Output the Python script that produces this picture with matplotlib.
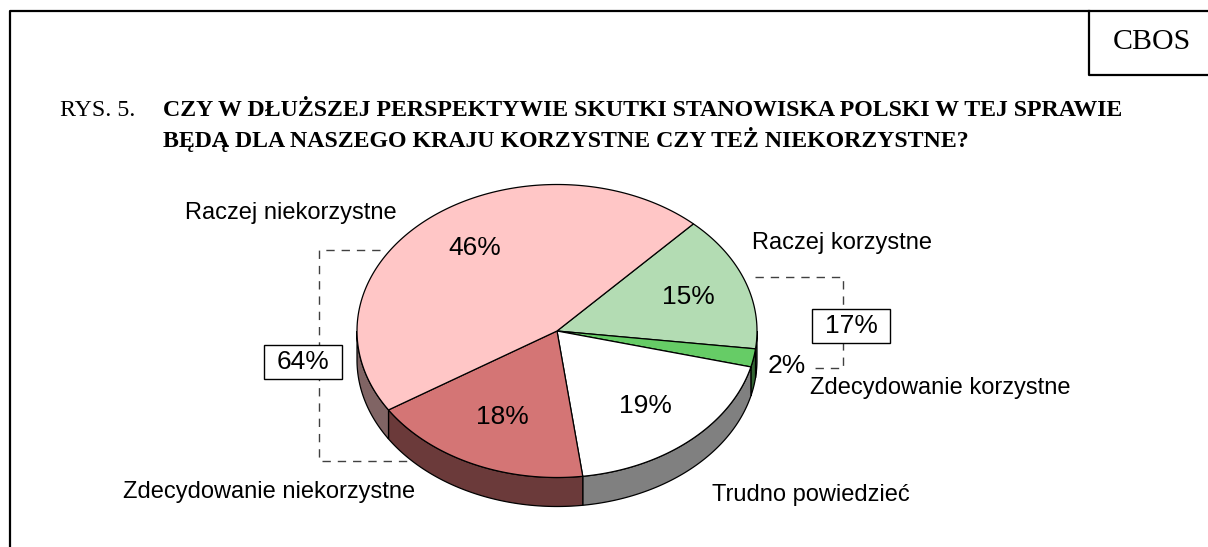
import numpy as np
import matplotlib.pyplot as plt
from matplotlib.patches import Polygon, Rectangle

# data, clockwise from the upper right
categories = ['Raczej korzystne', 'Zdecydowanie korzystne', 'Trudno powiedzieć',
              'Zdecydowanie niekorzystne', 'Raczej niekorzystne']
values = [15, 2, 19, 18, 46]
top_colors = ['#b3dcb3', '#66cc66', '#ffffff', '#d47575', '#ffc6c6']
side_colors = ['#5a7a5a', '#336633', '#808080', '#6b3a3a', '#806464']
group_labels = ['17%', '64%']

title1 = 'CZY W DŁUŻSZEJ PERSPEKTYWIE SKUTKI STANOWISKA POLSKI W TEJ SPRAWIE'
title2 = 'BĘDĄ DLA NASZEGO KRAJU KORZYSTNE CZY TEŻ NIEKORZYSTNE?'

# layout (pixels)
cx, cy = 557, 331
rx, ry = 200, 146.5
depth = 29
start = 47

fig = plt.figure(figsize=(12.08, 5.47), dpi=100)
ax = fig.add_axes([0, 0, 1, 1])
ax.set_xlim(0, 1208)
ax.set_ylim(547, 0)
ax.axis('off')

# frame + CBOS box
ax.plot([10, 10, 1208], [547, 11, 11], color='black', lw=1.6)
ax.plot([1089, 1089, 1208], [11, 75, 75], color='black', lw=1.6)
ax.text(1152, 42, 'CBOS', family='Liberation Serif', fontsize=21.5,
        ha='center', va='center')

ax.text(60, 110, 'RYS. 5.', family='Liberation Serif', fontsize=17.2, va='center')
ax.text(163, 110, title1, family='Liberation Serif', fontsize=17.2,
        fontweight='bold', va='center')
ax.text(163, 139, title2, family='Liberation Serif', fontsize=17.2,
        fontweight='bold', va='center')


def ell(t, dy=0):
    t = np.radians(t)
    return np.column_stack([cx + rx * np.cos(t), cy - ry * np.sin(t) + dy])


bounds = start - np.concatenate([[0], np.cumsum(values)]) * 3.6

# side walls (front half only)
for i in range(len(values)):
    a1, a2 = bounds[i + 1], bounds[i]
    lo, hi = max(a1, -180), min(a2, 0)
    if a1 < -180:
        lo2, hi2 = max(a1 + 360, -180), min(a2 + 360, 0)
        if hi2 > lo2:
            lo, hi = lo2, hi2
    if hi <= lo:
        continue
    t = np.linspace(lo, hi, 80)
    pts = np.vstack([ell(t), ell(t[::-1], depth)])
    ax.add_patch(Polygon(pts, closed=True, facecolor=side_colors[i],
                         edgecolor='black', lw=0.9))

# top face
for i in range(len(values)):
    t = np.linspace(bounds[i + 1], bounds[i], 150)
    pts = np.vstack([[cx, cy], ell(t)])
    ax.add_patch(Polygon(pts, closed=True, facecolor=top_colors[i],
                         edgecolor='black', lw=0.9))

# percentages
pct_pos = [(688, 297), (787, 366), (645, 406), (502, 417), (475, 248)]
for v, (x, y) in zip(values, pct_pos):
    ax.text(x, y, f'{v}%', family='Liberation Sans', fontsize=19,
            ha='center', va='center')

# category labels
lab_pos = [(752, 243), (810, 388), (712, 495), (123, 492), (185, 213)]
for c, (x, y) in zip(categories, lab_pos):
    ax.text(x, y, c, family='Liberation Sans', fontsize=17, ha='left', va='center')

# group brackets
dash = dict(color='#404040', lw=1, linestyle=(0, (6, 5)))
ax.plot([755, 843, 843, 813], [277, 277, 368, 368], **dash)
ax.plot([380, 319, 319, 410], [250, 250, 461, 461], **dash)
for lab, (x, y) in zip(group_labels, [(851, 326), (303, 362)]):
    ax.add_patch(Rectangle((x - 39, y - 17), 78, 34, facecolor='white',
                           edgecolor='black', lw=1, zorder=3))
    ax.text(x, y, lab, family='Liberation Sans', fontsize=19,
            ha='center', va='center', zorder=4)

fig.savefig('out.png', dpi=100)
